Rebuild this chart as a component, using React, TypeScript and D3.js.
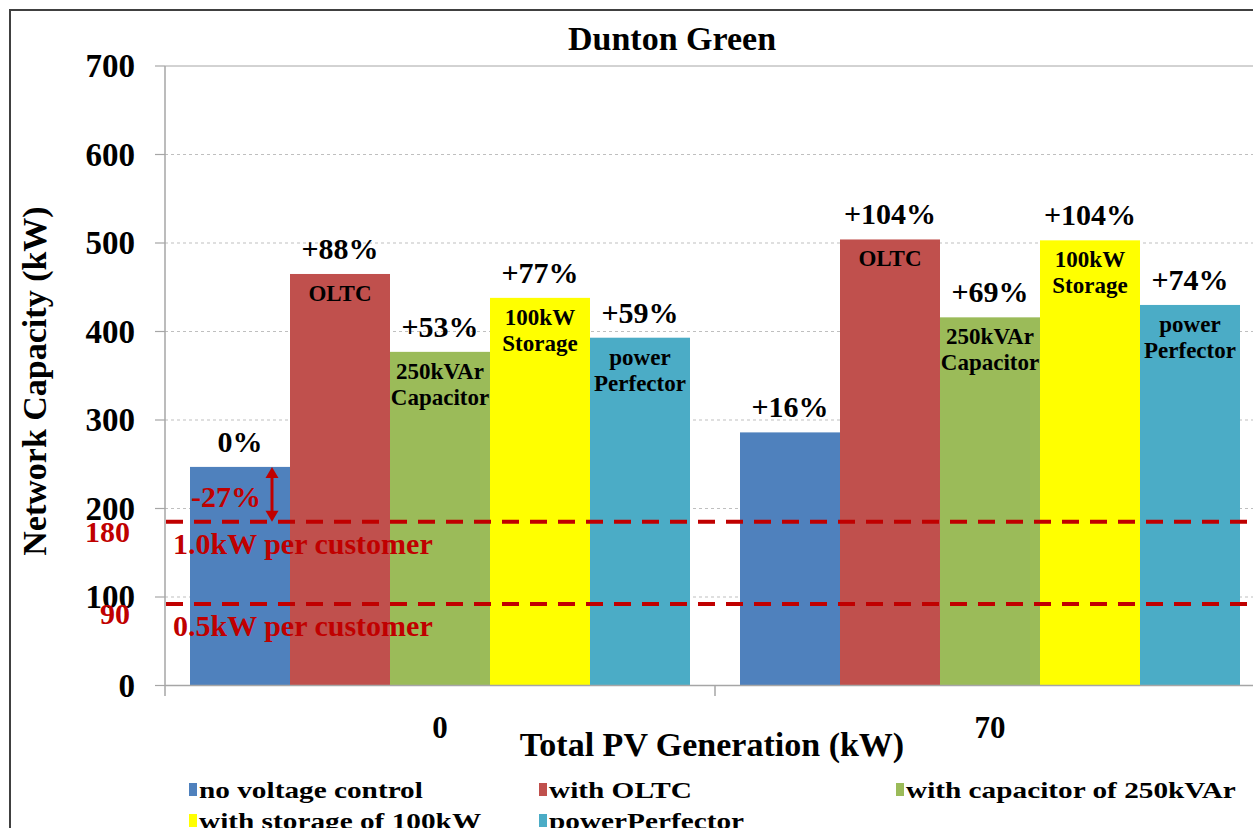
import React from "react";
import * as d3 from "d3";

const categories = ["0", "70"];
const seriesNames = [
  "no voltage control",
  "with OLTC",
  "with capacitor of 250kVAr",
  "with storage of 100kW",
  "powerPerfector",
];
const seriesColors = ["#4F81BD", "#C0504D", "#9BBB59", "#FFFF00", "#4BACC6"];
const valuesPV0 = [247, 465, 377, 438, 393];
const valuesPV70 = [286, 504, 416, 503, 430];
const pctPV0 = ["0%", "+88%", "+53%", "+77%", "+59%"];
const pctPV70 = ["+16%", "+104%", "+69%", "+104%", "+74%"];
const barNotes = [[], ["OLTC"], ["250kVAr", "Capacitor"], ["100kW", "Storage"], ["power", "Perfector"]];
const yTicks = [0, 100, 200, 300, 400, 500, 600, 700];
const limitLines = [
  { value: 185, tick: "180", label: "1.0kW per customer" },
  { value: 92, tick: "90", label: "0.5kW per customer" },
];
const baseDrop = "-27%";

const W = 1253;
const H = 828;
const FONT = "'Liberation Serif', 'Times New Roman', serif";
const RED = "#C00000";

export default function App() {
  const y = d3.scaleLinear().domain([0, 700]).range([685.5, 66]);
  const x0 = d3.scaleBand<string>().domain(categories).range([165, 1265]).paddingInner(0).paddingOuter(0);
  const x1 = d3
    .scaleBand<number>()
    .domain(d3.range(seriesNames.length))
    .range([25, x0.bandwidth() - 25])
    .padding(0);
  const data = [valuesPV0, valuesPV70];
  const pcts = [pctPV0, pctPV70];
  const bw = x1.bandwidth();

  const arrowX = x0(categories[0])! + x1(0)! + 82;
  const arrowTop = y(valuesPV0[0]);
  const arrowBot = y(limitLines[0].value);

  return (
    <svg width={W} height={H} style={{ position: "absolute", left: 0, top: 0, background: "#fff" }} fontFamily={FONT}>
      <rect x={0} y={0} width={W} height={H} fill="#fff" />
      <rect x={10} y={10} width={1400} height={1000} fill="none" stroke="#404040" strokeWidth={2} />
      <text x={672} y={50} textAnchor="middle" fontSize={34} fontWeight="bold">
        Dunton Green
      </text>

      {/* gridlines */}
      {yTicks.map((t) => (
        <g key={t}>
          {t > 0 && (
            <line
              x1={165}
              x2={W}
              y1={y(t)}
              y2={y(t)}
              stroke={t === 700 ? "#A6A6A6" : "#BFBFBF"}
              strokeWidth={1}
              strokeDasharray={t === 700 ? undefined : "3 3"}
            />
          )}
          <line x1={155} x2={165} y1={y(t)} y2={y(t)} stroke="#A6A6A6" strokeWidth={1.2} />
          <text x={135} y={y(t) + 11} textAnchor="end" fontSize={33} fontWeight="bold">
            {t}
          </text>
        </g>
      ))}

      {/* bars */}
      {categories.map((c, ci) => (
        <g key={c} transform={`translate(${x0(c)},0)`}>
          {data[ci].map((v, si) => {
            const bx = x1(si)!;
            const top = y(v);
            return (
              <g key={si}>
                <rect x={bx} y={top} width={bw} height={y(0) - top} fill={seriesColors[si]} />
                <text x={bx + bw / 2} y={top - 15} textAnchor="middle" fontSize={30} fontWeight="bold">
                  {pcts[ci][si]}
                </text>
                {barNotes[si].map((ln, li) => (
                  <text
                    key={li}
                    x={bx + bw / 2}
                    y={top + 27 + li * 26}
                    textAnchor="middle"
                    fontSize={23}
                    fontWeight="bold"
                  >
                    {ln}
                  </text>
                ))}
              </g>
            );
          })}
        </g>
      ))}

      {/* axes */}
      <line x1={165} x2={165} y1={66} y2={696} stroke="#A6A6A6" strokeWidth={1.5} />
      <line x1={165} x2={W} y1={y(0)} y2={y(0)} stroke="#A6A6A6" strokeWidth={1.5} />
      {categories.map((c, ci) => (
        <g key={c}>
          <line x1={x0(c)! + x0.bandwidth()} x2={x0(c)! + x0.bandwidth()} y1={y(0)} y2={696} stroke="#A6A6A6" strokeWidth={1.5} />
          <text x={x0(c)! + x0.bandwidth() / 2} y={738} textAnchor="middle" fontSize={31} fontWeight="bold">
            {c}
          </text>
        </g>
      ))}
      <text x={712} y={756} textAnchor="middle" fontSize={34} fontWeight="bold">
        Total PV Generation (kW)
      </text>
      <text transform={`translate(46,381) rotate(-90)`} textAnchor="middle" fontSize={34} fontWeight="bold">
        Network Capacity (kW)
      </text>

      {/* limit lines */}
      {limitLines.map((l) => (
        <g key={l.tick}>
          <line
            x1={166}
            x2={W}
            y1={y(l.value)}
            y2={y(l.value)}
            stroke={RED}
            strokeWidth={4}
            strokeDasharray="17 11"
          />
          <text x={130} y={y(l.value) + 20} textAnchor="end" fontSize={30} fontWeight="bold" fill={RED}>
            {l.tick}
          </text>
          <text x={173} y={y(l.value) + 32} fontSize={30} fontWeight="bold" fill={RED}>
            {l.label}
          </text>
        </g>
      ))}

      {/* double arrow */}
      <line x1={arrowX} x2={arrowX} y1={arrowTop + 8} y2={arrowBot - 8} stroke={RED} strokeWidth={3} />
      <polygon
        points={`${arrowX},${arrowTop} ${arrowX - 6.5},${arrowTop + 11} ${arrowX + 6.5},${arrowTop + 11}`}
        fill={RED}
      />
      <polygon
        points={`${arrowX},${arrowBot} ${arrowX - 6.5},${arrowBot - 11} ${arrowX + 6.5},${arrowBot - 11}`}
        fill={RED}
      />
      <text x={x0(categories[0])! + x1(0)! + 1} y={507} fontSize={30} fontWeight="bold" fill={RED}>
        {baseDrop}
      </text>

      {/* legend */}
      {seriesNames.map((n, i) => {
        const col = i % 3;
        const row = Math.floor(i / 3);
        const tx = [199, 549, 906][col];
        const by = [798, 829][row];
        return (
          <g key={n}>
            <rect x={tx - 10} y={by - 15} width={8} height={13} fill={seriesColors[i]} />
            <text transform={`translate(${tx},${by}) scale(1.22,1)`} fontSize={24} fontWeight="bold">
              {n}
            </text>
          </g>
        );
      })}
    </svg>
  );
}
